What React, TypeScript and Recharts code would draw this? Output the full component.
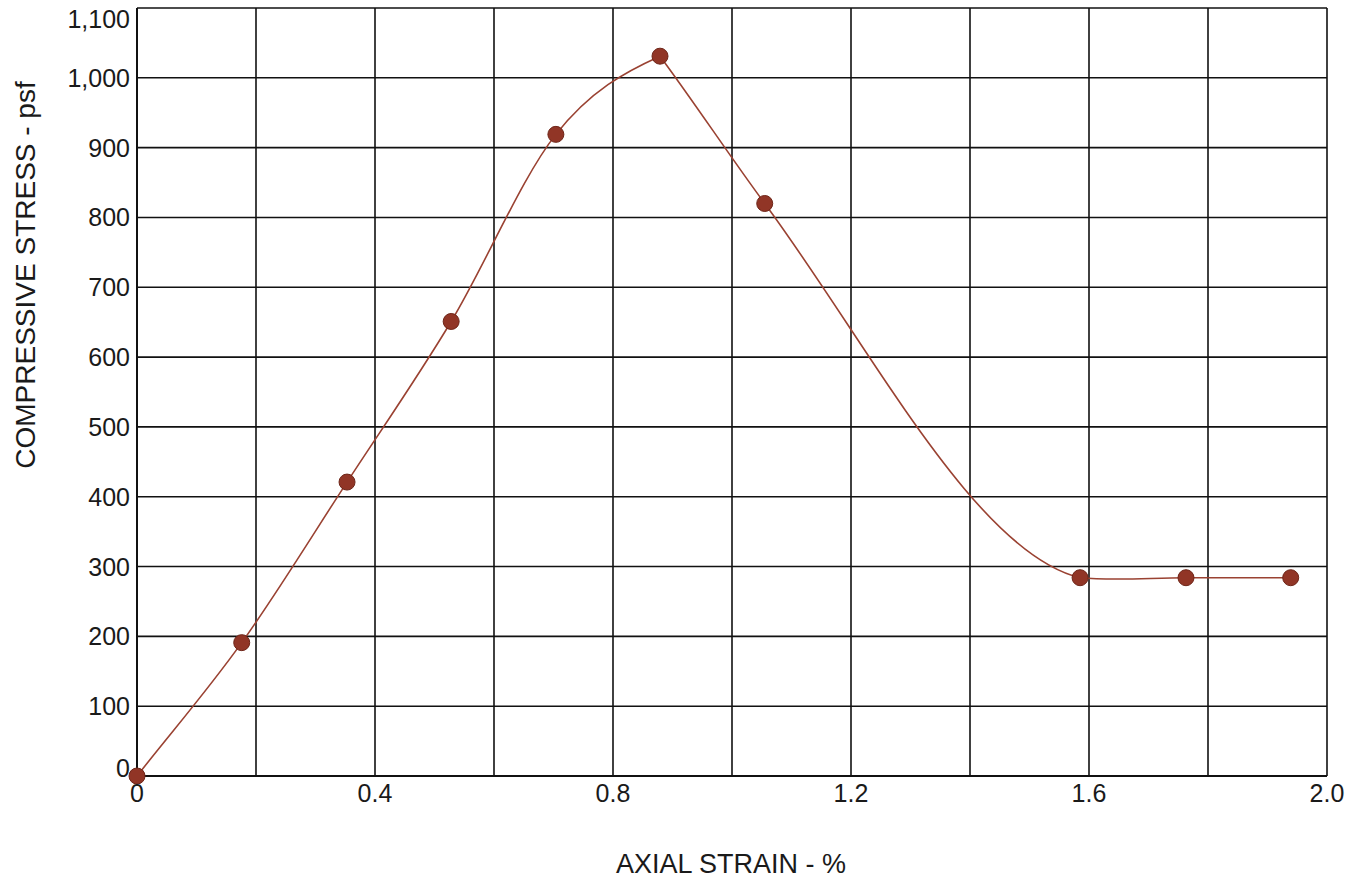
import { LineChart, Line, XAxis, YAxis, CartesianGrid, Label } from 'recharts';

// axial strain (%) and compressive stress (psf)
const STRAIN = [0, 0.176, 0.353, 0.528, 0.704, 0.879, 1.055, 1.585, 1.763, 1.939];
const STRESS = [0, 191, 421, 651, 919, 1031, 820, 284, 284, 284];

const X_TICKS = [0, 0.2, 0.4, 0.6, 0.8, 1.0, 1.2, 1.4, 1.6, 1.8, 2.0];
const Y_TICKS = [0, 100, 200, 300, 400, 500, 600, 700, 800, 900, 1000, 1100];

const FONT = '"Liberation Sans", Arial, sans-serif';
const TEXT = '#1a1a1a';
const LINE_COLOR = '#9a4232';
const DOT_FILL = '#913526';

const data = STRAIN.map((s, i) => ({ strain: s, stress: STRESS[i] }));

function xLabel(v: number) {
  if (Math.round(v * 10) % 4 !== 0) return '';
  return v === 0 ? '0' : v.toFixed(1);
}

// hand-drawn looking spline: smooth through points on a steady rise/fall,
// but lets the curve break at the peak and where it flattens out
function sketchCurve(context: any) {
  let pts: number[][] = [];
  return {
    areaStart() {},
    areaEnd() {},
    lineStart() {
      pts = [];
    },
    point(x: number, y: number) {
      pts.push([+x, +y]);
    },
    lineEnd() {
      const n = pts.length;
      if (!n) return;
      context.moveTo(pts[0][0], pts[0][1]);
      if (n < 3) {
        for (let i = 1; i < n; i++) context.lineTo(pts[i][0], pts[i][1]);
        return;
      }
      const d: number[] = [];
      const w: number[] = [];
      for (let i = 0; i < n - 1; i++) {
        w.push(pts[i + 1][0] - pts[i][0]);
        d.push((pts[i + 1][1] - pts[i][1]) / w[i]);
      }
      const tin: number[] = [d[0]];
      const tout: number[] = [d[0]];
      for (let i = 1; i < n - 1; i++) {
        if (d[i - 1] * d[i] > 0) {
          const m = (d[i - 1] * w[i] + d[i] * w[i - 1]) / (w[i - 1] + w[i]);
          tin.push(m);
          tout.push(m);
        } else {
          const k = 0.6 * Math.min(1, w[i] / w[i - 1]);
          tin.push(d[i - 1] * k);
          tout.push(d[i] + d[i - 1] * 0.08);
        }
      }
      tin.push(d[n - 2]);
      tout.push(d[n - 2]);
      for (let i = 0; i < n - 1; i++) {
        const [x0, y0] = pts[i];
        const [x1, y1] = pts[i + 1];
        const h = (x1 - x0) / 3;
        context.bezierCurveTo(x0 + h, y0 + tout[i] * h, x1 - h, y1 - tin[i + 1] * h, x1, y1);
      }
    },
  };
}

function YTick(props: any) {
  const { x, y, payload } = props;
  let shift = 0;
  if (payload.value === 1100) shift = 11;
  if (payload.value === 0) shift = -8;
  return (
    <text
      x={x}
      y={y + shift}
      dy="0.36em"
      textAnchor="end"
      fill={TEXT}
      fontSize={25}
      fontFamily={FONT}
    >
      {Number(payload.value).toLocaleString('en-US')}
    </text>
  );
}

export default function App() {
  return (
    <div style={{ position: 'absolute', left: 0, top: 0, background: '#fff' }}>
      <LineChart
        width={1359}
        height={879}
        data={data}
        margin={{ top: 8, right: 32, bottom: 63, left: 37 }}
      >
        <CartesianGrid stroke="#111" strokeWidth={1.6} />
        <XAxis
          dataKey="strain"
          type="number"
          domain={[0, 2]}
          ticks={X_TICKS}
          tickFormatter={xLabel}
          interval={0}
          height={40}
          axisLine={{ stroke: '#111', strokeWidth: 2 }}
          tickLine={false}
          tickSize={5}
          tickMargin={3}
          tick={{ fill: TEXT, fontSize: 25, fontFamily: FONT }}
        >
          <Label
            content={() => (
              <text x={731} y={873} textAnchor="middle" fill={TEXT} fontSize={27} fontFamily={FONT}>
                AXIAL STRAIN - %
              </text>
            )}
          />
        </XAxis>
        <YAxis
          type="number"
          domain={[0, 1100]}
          ticks={Y_TICKS}
          interval={0}
          width={100}
          axisLine={{ stroke: '#111', strokeWidth: 2 }}
          tickLine={false}
          tickSize={5}
          tickMargin={2}
          tick={<YTick />}
        >
          <Label
            content={() => (
              <text
                x={35}
                y={275}
                transform="rotate(-90 35 275)"
                textAnchor="middle"
                fill={TEXT}
                fontSize={28}
                fontFamily={FONT}
              >
                COMPRESSIVE STRESS - psf
              </text>
            )}
          />
        </YAxis>
        <Line
          dataKey="stress"
          type={sketchCurve as any}
          stroke={LINE_COLOR}
          strokeWidth={1.6}
          dot={{ r: 8, fill: DOT_FILL, stroke: '#6e2518', strokeWidth: 1, fillOpacity: 1 }}
          activeDot={false}
          isAnimationActive={false}
        />
      </LineChart>
    </div>
  );
}
